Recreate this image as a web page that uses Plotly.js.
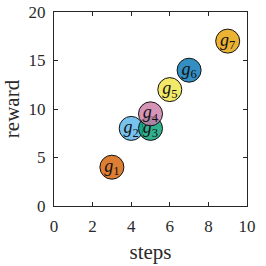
<!DOCTYPE html>
<html>
<head>
<meta charset="utf-8">
<script src="https://cdn.plot.ly/plotly-3.0.1.min.js"></script>
<style>html,body{margin:0;padding:0;background:#fff;}#chart{width:266px;height:266px;}</style>
</head>
<body>
<div id="chart"></div>
<script>
var labels = ["1", "2", "3", "4", "5", "6", "7"];
var steps = [3, 4, 5, 5, 6, 7, 9];
var reward = [4, 8, 8, 9.5, 12, 14, 17];
var colors = ["rgba(213,94,0,0.8)", "rgba(86,180,233,0.8)", "rgba(0,158,115,0.8)",
              "rgba(204,121,167,0.8)", "rgba(240,228,66,0.8)", "rgba(0,114,178,0.8)",
              "rgba(230,159,0,0.8)"];
var xTicks = [0, 2, 4, 6, 8, 10];
var yTicks = [0, 5, 10, 15, 20];

var font = "Liberation Serif, Times New Roman, serif";
var traces = [];
for (var i = 0; i < steps.length; i++) {
  traces.push({
    type: "scatter",
    mode: "markers+text",
    x: [steps[i]],
    y: [reward[i]],
    text: ["<i>g</i><sub>" + labels[i] + "</sub>"],
    textposition: "middle center",
    textfont: {family: font, size: 18, color: "#111"},
    marker: {size: 24, color: colors[i], line: {color: "#111", width: 1}},
    cliponaxis: false,
    hoverinfo: "none",
    showlegend: false
  });
}

var axisCommon = {
  showline: true, mirror: "ticks", linecolor: "#262626", linewidth: 1,
  ticks: "inside", ticklen: 4, tickcolor: "#262626", tickwidth: 1,
  showgrid: false, zeroline: false,
  tickfont: {family: font, size: 17, color: "#2a2a2a"}
};

var layout = {
  width: 266, height: 266,
  margin: {l: 54, r: 19, t: 12, b: 60},
  paper_bgcolor: "#fff", plot_bgcolor: "#fff",
  xaxis: Object.assign({}, axisCommon, {
    range: [0, 10], tickvals: xTicks, ticktext: xTicks.map(String),
    ticklabelstandoff: 5,
    title: {text: "steps", font: {family: font, size: 21, color: "#2a2a2a"}, standoff: 8}
  }),
  yaxis: Object.assign({}, axisCommon, {
    range: [0, 20], tickvals: yTicks, ticktext: yTicks.map(String),
    ticklabelstandoff: 4,
    title: {text: "reward", font: {family: font, size: 21, color: "#2a2a2a"}, standoff: 9}
  })
};

Plotly.newPlot("chart", traces, layout, {staticPlot: true, displayModeBar: false});
</script>
</body>
</html>
